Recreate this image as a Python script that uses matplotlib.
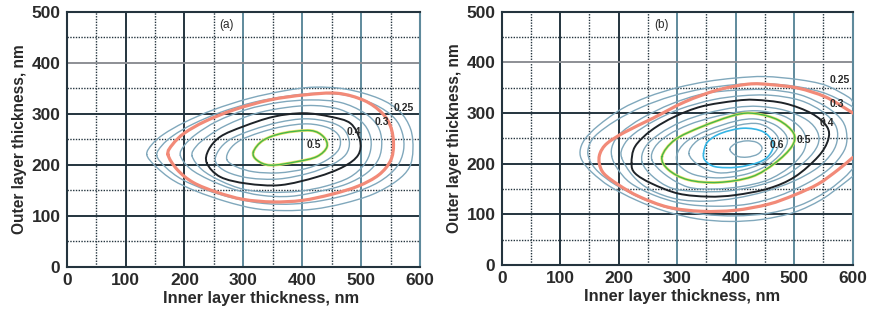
import numpy as np
import matplotlib
matplotlib.use('Agg')
import matplotlib.pyplot as plt
from matplotlib.path import Path
from matplotlib.patches import PathPatch

plt.rcParams['font.family'] = ['Liberation Sans', 'DejaVu Sans']

# ---------------- data ----------------
x_ticks = [0, 100, 200, 300, 400, 500, 600]
y_ticks = [0, 100, 200, 300, 400, 500]
minor_x = [50, 150, 250, 350, 450, 550]
minor_y = [50, 150, 250, 350, 450]

# Panel (a) contour traces (inner layer nm, outer layer nm)
a_c025_x = [136, 145, 165, 200, 250, 310, 370, 420, 475, 530, 565, 584, 588, 582, 560, 520, 470, 420, 370, 320, 270, 220, 180, 150]
a_c025_y = [220, 240, 260, 283, 308, 330, 345, 352, 348, 330, 305, 270, 230, 195, 168, 142, 124, 113, 110, 114, 128, 148, 170, 198]
a_c027_x = [153, 162, 182, 215, 262, 320, 378, 425, 475, 523, 556, 570, 572, 560, 530, 485, 435, 385, 335, 285, 238, 196, 168]
a_c027_y = [218, 238, 258, 280, 303, 323, 335, 340, 336, 318, 292, 262, 228, 195, 166, 144, 130, 123, 124, 134, 150, 171, 195]
a_c030_x = [172, 180, 200, 235, 285, 345, 405, 460, 505, 535, 550, 555, 550, 530, 495, 450, 400, 350, 300, 255, 215, 188]
a_c030_y = [220, 240, 262, 285, 308, 327, 337, 340, 326, 302, 275, 240, 208, 180, 158, 142, 130, 127, 132, 146, 165, 190]
a_c033_x = [193, 200, 220, 255, 305, 360, 415, 465, 505, 528, 535, 530, 510, 475, 430, 380, 330, 283, 243, 210]
a_c033_y = [218, 238, 260, 285, 308, 322, 327, 322, 302, 276, 245, 212, 184, 162, 148, 138, 140, 152, 170, 192]
a_c036_x = [213, 220, 240, 272, 320, 372, 420, 465, 500, 515, 516, 505, 480, 440, 395, 345, 300, 262, 230]
a_c036_y = [217, 236, 256, 278, 300, 312, 316, 308, 285, 258, 228, 200, 175, 158, 148, 146, 152, 168, 190]
a_c040_x = [238, 241, 261, 300, 351, 402, 448, 482, 498, 495, 470, 425, 363, 306, 261]
a_c040_y = [203, 229, 255, 275, 294, 301, 294, 281, 248, 219, 196, 176, 160, 163, 176]
a_c043_x = [253, 258, 278, 315, 360, 405, 445, 470, 480, 474, 450, 410, 360, 310, 272]
a_c043_y = [205, 228, 250, 268, 283, 290, 284, 270, 245, 220, 200, 183, 172, 174, 186]
a_c046_x = [272, 277, 295, 328, 368, 410, 445, 463, 462, 440, 405, 360, 318, 288]
a_c046_y = [210, 230, 248, 263, 275, 280, 272, 255, 230, 208, 192, 184, 186, 196]
a_c050_x = [317, 334, 368, 414, 436, 442, 425, 391, 346, 323]
a_c050_y = [225, 248, 262, 267, 255, 235, 216, 206, 199, 209]

a_labels = ['0.25', '0.3', '0.4', '0.5']
a_label_x = [572, 535, 487, 419]
a_label_y = [312, 284, 265, 239]

# Panel (b) contour traces
b_c025_x = [600, 592, 553, 507, 450, 399, 350, 300, 250, 205, 165, 142, 134, 138, 155, 185, 230, 280, 335, 390, 445, 500, 545, 578, 600]
b_c025_y = [322, 332, 355, 366, 372, 369, 362, 350, 332, 308, 275, 248, 225, 205, 182, 155, 128, 106, 91, 86, 90, 104, 128, 155, 175]
b_c027_x = [600, 585, 550, 505, 450, 400, 345, 290, 240, 195, 160, 148, 150, 165, 195, 240, 290, 345, 400, 455, 510, 555, 585, 600]
b_c027_y = [312, 322, 340, 352, 358, 356, 348, 333, 312, 285, 255, 230, 208, 184, 158, 131, 111, 100, 97, 102, 118, 145, 172, 190]
b_c030_x = [600, 592, 553, 507, 460, 421, 368, 313, 259, 210, 180, 168, 167, 175, 200, 235, 285, 342, 399, 456, 500, 541, 575, 600]
b_c030_y = [300, 306, 332, 349, 356, 357, 345, 322, 290, 262, 240, 220, 200, 180, 158, 135, 114, 106, 108, 120, 138, 160, 188, 212]
b_c033_x = [188, 190, 205, 240, 290, 345, 400, 455, 510, 555, 582, 590, 585, 560, 520, 470, 420, 365, 310, 260, 220, 198]
b_c033_y = [215, 238, 262, 290, 318, 338, 345, 346, 336, 312, 285, 255, 225, 190, 160, 135, 120, 116, 121, 138, 162, 190]
b_c036_x = [205, 208, 225, 260, 305, 360, 410, 460, 510, 548, 570, 574, 565, 540, 500, 450, 400, 350, 300, 255, 225]
b_c036_y = [212, 235, 258, 284, 308, 326, 334, 335, 325, 303, 277, 250, 222, 192, 166, 145, 132, 126, 130, 148, 175]
b_c040_x = [222, 228, 256, 296, 342, 399, 433, 484, 530, 556, 558, 541, 501, 456, 399, 353, 302, 256, 228]
b_c040_y = [201, 234, 266, 293, 313, 324, 326, 319, 299, 273, 247, 214, 174, 151, 138, 135, 141, 161, 181]
b_c043_x = [240, 245, 270, 308, 352, 400, 440, 485, 522, 540, 540, 520, 482, 435, 385, 335, 290, 258]
b_c043_y = [203, 232, 259, 283, 300, 311, 313, 305, 286, 262, 236, 206, 175, 156, 146, 145, 152, 175]
b_c046_x = [257, 262, 285, 320, 362, 405, 442, 482, 510, 520, 515, 492, 455, 410, 362, 318, 280]
b_c046_y = [207, 233, 257, 277, 292, 302, 304, 294, 272, 248, 222, 193, 168, 155, 150, 154, 178]
b_c050_x = [274, 296, 342, 399, 433, 473, 499, 496, 467, 427, 370, 319, 285]
b_c050_y = [214, 247, 273, 296, 299, 286, 260, 234, 201, 174, 163, 168, 188]
b_c053_x = [299, 315, 352, 400, 435, 468, 487, 484, 458, 420, 372, 330, 305]
b_c053_y = [216, 243, 266, 284, 288, 276, 254, 230, 200, 180, 172, 178, 195]
b_c057_x = [320, 334, 366, 405, 438, 462, 474, 468, 445, 410, 370, 338]
b_c057_y = [220, 245, 262, 276, 279, 266, 246, 224, 201, 187, 182, 196]
b_c060_x = [345, 352, 375, 413, 447, 464, 458, 440, 402, 365, 348]
b_c060_y = [220, 243, 260, 270, 263, 240, 218, 203, 193, 194, 206]
b_c065_x = [390, 400, 418, 436, 445, 438, 420, 402]
b_c065_y = [228, 240, 245, 242, 231, 219, 213, 215]

b_labels = ['0.25', '0.3', '0.4', '0.5', '0.6']
b_label_x = [578, 573, 556, 516, 470]
b_label_y = [365, 318, 280, 247, 237]

# ---------------- styles ----------------
BLUE = '#80a8bc'
RED = '#f28a78'
BLACK = '#1e2328'
GREEN = '#45b54a'
CYAN = '#35b5e5'
DARK = '#24343e'
BGREY = '#5f8a9c'
TXT = '#2a2a2a'


def smooth_path(xs, ys, closed=True):
    pts = np.column_stack([xs, ys]).astype(float)
    n = len(pts)
    if closed:
        P = np.vstack([pts[-1], pts, pts[0], pts[1]])
        segs = n
    else:
        P = np.vstack([pts[0], pts, pts[-1]])
        segs = n - 1
    verts = [P[1]]
    codes = [Path.MOVETO]
    for i in range(1, segs + 1):
        p0, p1, p2, p3 = P[i - 1], P[i], P[i + 1], P[i + 2]
        verts += [p1 + (p2 - p0) / 6.0, p2 - (p3 - p1) / 6.0, p2]
        codes += [Path.CURVE4] * 3
    return Path(verts, codes)


def draw_curve(ax, xs, ys, color, lw, closed=True, z=3):
    ax.add_patch(PathPatch(smooth_path(xs, ys, closed), fill=False,
                           edgecolor=color, lw=lw, zorder=z, capstyle='round'))


def setup(ax, tag, tag_x, xlab_pos):
    ax.set_xlim(0, 600)
    ax.set_ylim(0, 500)
    for v in x_ticks[1:-1]:
        c = DARK if v <= 200 else BGREY
        ax.axvline(v, color=c, lw=1.4, zorder=1)
    for v in minor_x:
        ax.axvline(v, color=DARK, lw=1.0, ls=(0, (1, 1)), zorder=1)
    for v in y_ticks[1:-1]:
        c = DARK if v <= 300 else '#8d8f95'
        ax.axhline(v, color=c, lw=1.4, zorder=1)
    for v in minor_y:
        ax.axhline(v, color=DARK, lw=1.0, ls=(0, (1, 1)), zorder=1)
    ax.set_xticks(x_ticks)
    ax.set_yticks(y_ticks)
    ax.tick_params(length=0, labelsize=12.5, pad=4.5)
    for lab in ax.get_xticklabels() + ax.get_yticklabels():
        lab.set_fontweight('bold')
        lab.set_color(TXT)
    ax.set_xlabel('Inner layer thickness, nm', fontsize=11.8, fontweight='bold',
                  color=TXT, labelpad=2)
    ax.xaxis.set_label_coords(xlab_pos, -0.095)
    ax.set_ylabel('Outer layer thickness, nm', fontsize=11.2, fontweight='bold',
                  color=TXT, labelpad=3)
    for s in ax.spines.values():
        s.set_color(DARK)
        s.set_linewidth(1.5)
    ax.spines['right'].set_color(BGREY)
    ax.text(tag_x, 474, tag, ha='center', va='center', fontsize=8.5, color=TXT)


fig = plt.figure(figsize=(8.69, 3.2), dpi=100)
ax_a = fig.add_axes([66.7 / 869, 53.3 / 320, 353.3 / 869, 255 / 320])
ax_b = fig.add_axes([501.7 / 869, 55 / 320, 351 / 869, 253.3 / 320])

setup(ax_a, '(a)', 272, 0.55)
setup(ax_b, '(b)', 274, 0.514)

# Panel (a)
for xs, ys in [(a_c025_x, a_c025_y), (a_c027_x, a_c027_y), (a_c033_x, a_c033_y),
               (a_c036_x, a_c036_y), (a_c043_x, a_c043_y), (a_c046_x, a_c046_y)]:
    draw_curve(ax_a, xs, ys, BLUE, 1.0)
draw_curve(ax_a, a_c030_x, a_c030_y, RED, 2.3)
draw_curve(ax_a, a_c040_x, a_c040_y, BLACK, 1.4)
draw_curve(ax_a, a_c050_x, a_c050_y, '#e8e36a', 2.0)
draw_curve(ax_a, a_c050_x, a_c050_y, GREEN, 1.0)
for t, x, y in zip(a_labels, a_label_x, a_label_y):
    ax_a.text(x, y, t, ha='center', va='center', fontsize=7.5, fontweight='bold',
              color=TXT, zorder=5)

# Panel (b)
for xs, ys in [(b_c025_x, b_c025_y), (b_c027_x, b_c027_y)]:
    draw_curve(ax_b, xs, ys, BLUE, 1.0, closed=False)
for xs, ys in [(b_c033_x, b_c033_y), (b_c036_x, b_c036_y), (b_c043_x, b_c043_y),
               (b_c046_x, b_c046_y), (b_c053_x, b_c053_y), (b_c057_x, b_c057_y),
               (b_c065_x, b_c065_y)]:
    draw_curve(ax_b, xs, ys, BLUE, 1.0)
draw_curve(ax_b, b_c030_x, b_c030_y, RED, 2.3, closed=False)
draw_curve(ax_b, b_c040_x, b_c040_y, BLACK, 1.4)
draw_curve(ax_b, b_c050_x, b_c050_y, '#e8e36a', 2.0)
draw_curve(ax_b, b_c050_x, b_c050_y, GREEN, 1.0)
draw_curve(ax_b, b_c060_x, b_c060_y, CYAN, 1.2)
for t, x, y in zip(b_labels, b_label_x, b_label_y):
    ax_b.text(x, y, t, ha='center', va='center', fontsize=7.5, fontweight='bold',
              color=TXT, zorder=5)

fig.savefig('out.png', dpi=100)
